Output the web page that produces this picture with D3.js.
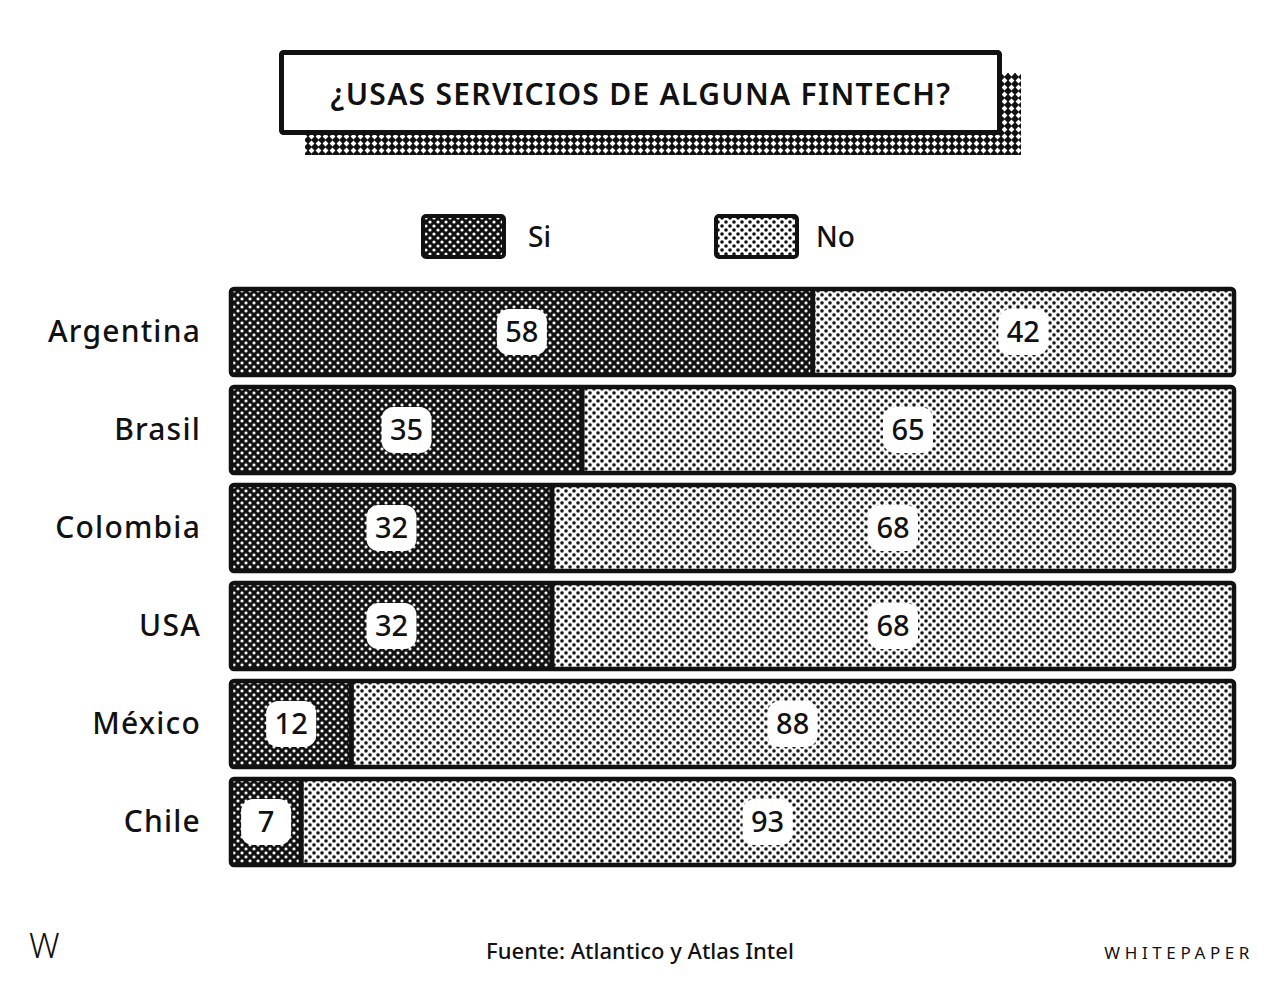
<!doctype html>
<html>
<head>
<meta charset="utf-8">
<script src="https://d3js.org/d3.v7.min.js"></script>
<style>
body { margin: 0; background: #fff; }
svg { display: block; font-family: "Noto Sans", Lato, sans-serif; }
</style>
</head>
<body>
<svg id="chart" width="1281" height="992"></svg>
<script>
var countries = ["Argentina", "Brasil", "Colombia", "USA", "México", "Chile"];
var si = [58, 35, 32, 32, 12, 7];
var no = [42, 65, 68, 68, 88, 93];
var seriesNames = ["Si", "No"];

var svg = d3.select("#chart");
var defs = svg.append("defs");

// halftone patterns
var pSi = defs.append("pattern").attr("id", "pat-si")
	.attr("patternUnits", "userSpaceOnUse").attr("width", 8).attr("height", 8);
pSi.append("rect").attr("width", 8).attr("height", 8).attr("fill", "#111");
pSi.selectAll("circle").data([[2, 2], [6, 6]]).enter().append("circle")
	.attr("cx", function(d) { return d[0]; }).attr("cy", function(d) { return d[1]; })
	.attr("r", 1.6).attr("fill", "#fff");

var pNo = defs.append("pattern").attr("id", "pat-no")
	.attr("patternUnits", "userSpaceOnUse").attr("width", 8).attr("height", 8);
pNo.append("rect").attr("width", 8).attr("height", 8).attr("fill", "#fff");
pNo.selectAll("circle").data([[2, 2], [6, 6]]).enter().append("circle")
	.attr("cx", function(d) { return d[0]; }).attr("cy", function(d) { return d[1]; })
	.attr("r", 1.8).attr("fill", "#111");

var pSh = defs.append("pattern").attr("id", "pat-shadow")
	.attr("patternUnits", "userSpaceOnUse").attr("width", 7).attr("height", 7);
pSh.append("rect").attr("width", 7).attr("height", 7).attr("fill", "#111");
pSh.append("path").attr("d", "M3.5,0.6 L6.4,3.5 L3.5,6.4 L0.6,3.5 Z").attr("fill", "#fff");

// title box
svg.append("rect").attr("x", 305).attr("y", 73).attr("width", 716).attr("height", 82)
	.attr("fill", "url(#pat-shadow)");
svg.append("rect").attr("x", 281.5).attr("y", 52.5).attr("width", 718).attr("height", 80)
	.attr("fill", "#fff").attr("stroke", "#111").attr("stroke-width", 5).attr("rx", 2);
svg.append("text").attr("x", 641).attr("y", 105).attr("text-anchor", "middle")
	.attr("font-size", 30).attr("font-weight", 600).attr("fill", "#111")
	.attr("letter-spacing", 1.3)
	.text("¿USAS SERVICIOS DE ALGUNA FINTECH?");

// legend
var legend = svg.append("g");
var legendItems = [{name: seriesNames[0], x: 423, dx: 105, fill: "url(#pat-si)"},
	{name: seriesNames[1], x: 716, dx: 100, fill: "url(#pat-no)"}];
legendItems.forEach(function(d) {
	legend.append("rect").attr("x", d.x).attr("y", 216).attr("width", 81).attr("height", 41)
		.attr("fill", d.fill).attr("stroke", "#111").attr("stroke-width", 4).attr("rx", 3);
	legend.append("text").attr("x", d.x + d.dx).attr("y", 247)
		.attr("font-size", 28).attr("font-weight", 500).attr("fill", "#111").text(d.name);
});

// scales
var x = d3.scaleLinear().domain([0, 100]).range([231, 1234]);
var y = d3.scaleBand().domain(countries).range([283, 871]).paddingInner(0.12).paddingOuter(0.06);

var rows = svg.append("g").selectAll("g").data(countries).enter().append("g")
	.attr("transform", function(d) { return "translate(0," + y(d) + ")"; });

var h = y.bandwidth();

rows.append("rect").attr("x", x(0)).attr("y", 0)
	.attr("width", function(d, i) { return x(si[i]) - x(0); }).attr("height", h)
	.attr("fill", "url(#pat-si)");
rows.append("rect").attr("x", function(d, i) { return x(si[i]); }).attr("y", 0)
	.attr("width", function(d, i) { return x(si[i] + no[i]) - x(si[i]); }).attr("height", h)
	.attr("fill", "url(#pat-no)");
rows.append("line")
	.attr("x1", function(d, i) { return x(si[i]); }).attr("x2", function(d, i) { return x(si[i]); })
	.attr("y1", 0).attr("y2", h).attr("stroke", "#111").attr("stroke-width", 5);
rows.append("rect").attr("x", x(0)).attr("y", 0)
	.attr("width", x(100) - x(0)).attr("height", h)
	.attr("fill", "none").attr("stroke", "#111").attr("stroke-width", 4.5).attr("rx", 3);

// country labels
rows.append("text").attr("x", 201).attr("y", h / 2 + 10).attr("text-anchor", "end")
	.attr("font-size", 30).attr("font-weight", 500).attr("fill", "#111")
	.attr("letter-spacing", 1.2)
	.text(function(d) { return d; });

// value labels
function addLabel(getCenter, getValue) {
	var lab = rows.append("g")
		.attr("transform", function(d, i) { return "translate(" + getCenter(i) + "," + (h / 2) + ")"; });
	lab.append("rect").attr("x", -25).attr("y", -23).attr("width", 50).attr("height", 46)
		.attr("rx", 12).attr("fill", "#fff");
	lab.append("text").attr("y", 10).attr("text-anchor", "middle")
		.attr("font-size", 29).attr("font-weight", 500).attr("fill", "#111")
		.text(function(d, i) { return getValue(i); });
}
addLabel(function(i) { return (x(0) + x(si[i])) / 2; }, function(i) { return si[i]; });
addLabel(function(i) { return (x(si[i]) + x(si[i] + no[i])) / 2; }, function(i) { return no[i]; });

// footer
svg.append("text").attr("x", 29).attr("y", 958).attr("font-size", 34).attr("font-weight", 300)
	.attr("fill", "#111").text("W");
svg.append("text").attr("x", 640).attr("y", 959).attr("text-anchor", "middle")
	.attr("font-size", 22).attr("font-weight", 500).attr("fill", "#111")
	.attr("letter-spacing", 0)
	.text("Fuente: Atlantico y Atlas Intel");
svg.append("text").attr("x", 1254).attr("y", 959).attr("text-anchor", "end")
	.attr("font-size", 17).attr("fill", "#111").attr("letter-spacing", 4.6)
	.text("WHITEPAPER");
</script>
</body>
</html>
